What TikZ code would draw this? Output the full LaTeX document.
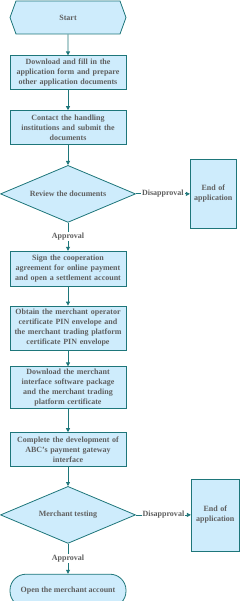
\documentclass[tikz,border=0pt]{standalone}
\usepackage{fontspec}
\setmainfont{Liberation Serif}
\usepackage{tikz}
\usetikzlibrary{shapes.geometric, shapes.symbols, arrows.meta, positioning}
\definecolor{boxline}{RGB}{30,118,122}
\definecolor{boxfill}{RGB}{206,236,252}
\definecolor{txtgray}{RGB}{95,95,95}
\tikzset{
  step box/.style={rectangle, draw=boxline, fill=boxfill,
    minimum width=116pt, text width=112pt, align=center, inner sep=2pt,
    font=\fontsize{8}{10}\selectfont\bfseries, text=txtgray, line width=0.8pt},
  endbox/.style={rectangle, draw=boxline, fill=boxfill,
    text width=44pt, align=center, inner sep=1pt,
    font=\fontsize{8}{10}\selectfont\bfseries, text=txtgray, line width=0.8pt},
  check/.style={diamond, draw=boxline, fill=boxfill, aspect=2.4,
    minimum width=135pt, minimum height=57pt, inner sep=0pt,
    font=\fontsize{8}{10}\selectfont\bfseries, text=txtgray, line width=0.8pt},
  lbl/.style={fill=white, inner sep=1pt, font=\fontsize{8}{9}\selectfont\bfseries, text=txtgray},
  arrow/.style={-{Triangle[length=4pt,width=4pt]}, line width=0.8pt, color=boxline}
}

\begin{document}
\begin{tikzpicture}
  \useasboundingbox (0,0) rectangle (240pt,-601pt);
  % Start
  \node[signal, signal to=west and east, signal pointer angle=140, draw=boxline, fill=boxfill,
    minimum width=116pt, minimum height=33pt, inner sep=0pt, line width=0.8pt,
    font=\fontsize{8}{10}\selectfont\bfseries, text=txtgray] (start) at (68pt,-17.5pt) {Start};

  % Application steps
  \node[step box, minimum height=34pt, below=21pt of start] (fill) {Download and fill in the\\application form and prepare\\other application documents};
  \node[step box, minimum height=34pt, below=20pt of fill] (submit) {Contact the handling\\institutions and submit the\\documents};

  % Review
  \node[check, below=20pt of submit] (review) {Review the documents};
  \node[endbox, minimum height=69pt, right=54pt of review] (end1) {End of\\application};

  % Merchant steps
  \node[step box, minimum height=35pt, below=28pt of review] (sign) {Sign the cooperation\\agreement for online payment\\and open a settlement account};
  \node[step box, minimum height=44pt, below=19pt of sign] (pin) {Obtain the merchant operator\\certificate PIN envelope and\\the merchant trading platform\\certificate PIN envelope};
  \node[step box, minimum height=42pt, below=16pt of pin] (soft) {Download the merchant\\interface software package\\and the merchant trading\\platform certificate};
  \node[step box, minimum height=34pt, below=23pt of soft] (dev) {Complete the development of\\ABC's payment gateway\\interface};

  % Testing
  \node[check, below=19pt of dev] (test) {Merchant testing};
  \node[endbox, minimum height=72pt, minimum width=48pt, right=55pt of test] (end2) {End of\\application};

  % Open account
  \node[rectangle, rounded corners=16pt, draw=boxline, fill=boxfill, minimum width=116pt,
    minimum height=33pt, line width=0.8pt, font=\fontsize{8}{10}\selectfont\bfseries,
    text=txtgray, below=30pt of test] (open) {Open the merchant account};

  % Connections
  \draw[arrow] (start) -- (fill);
  \draw[arrow] (fill) -- (submit);
  \draw[arrow] (submit) -- (review);
  \draw[arrow] (review) -- (end1) node[lbl, midway] {Disapproval};
  \draw[arrow] (review) -- (sign) node[lbl, midway] {Approval};
  \draw[arrow] (sign) -- (pin);
  \draw[arrow] (pin) -- (soft);
  \draw[arrow] (soft) -- (dev);
  \draw[arrow] (dev) -- (test);
  \draw[arrow] (test) -- (end2) node[lbl, midway] {Disapproval};
  \draw[arrow] (test) -- (open) node[lbl, midway] {Approval};
\end{tikzpicture}
\end{document}
